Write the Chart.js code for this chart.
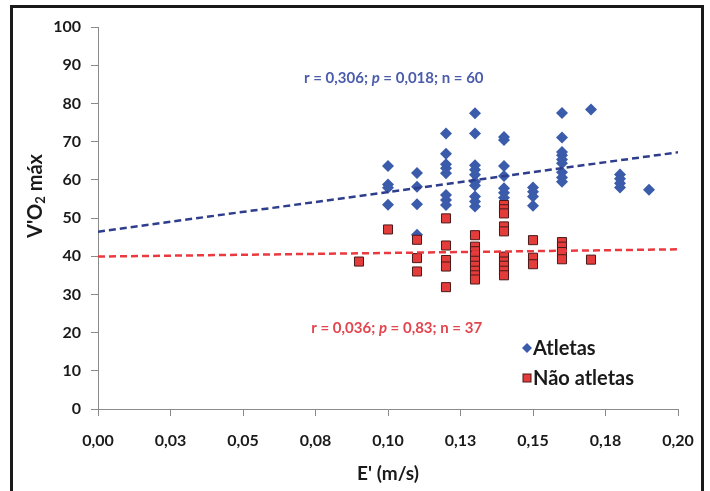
<!DOCTYPE html>
<html>
<head>
<meta charset="utf-8">
<script src="https://cdn.jsdelivr.net/npm/chart.js@4.4.1/dist/chart.umd.min.js"></script>
<style>
html, body { margin: 0; padding: 0; background: #fff; }
#wrap { position: relative; width: 710px; height: 491px; overflow: hidden; }
#frame { position: absolute; left: 10px; top: 5px; width: 688px; height: 520px; border: 3px solid #1a1a1a; pointer-events: none; }
canvas { position: absolute; left: 0; top: 0; }
</style>
</head>
<body>
<div id="wrap">
  <canvas id="c" width="710" height="491"></canvas>
  <div id="frame"></div>
</div>
<script>
// E' (m/s) / V'O2 max — athletes
const athleteX = [
  0.10, 0.10, 0.10, 0.10,
  0.11, 0.11, 0.11, 0.11,
  0.12, 0.12, 0.12, 0.12, 0.12, 0.12, 0.12, 0.12,
  0.13, 0.13, 0.13, 0.13, 0.13, 0.13, 0.13, 0.13, 0.13, 0.13,
  0.14, 0.14, 0.14, 0.14, 0.14, 0.14, 0.14,
  0.15, 0.15, 0.15, 0.15,
  0.16, 0.16, 0.16, 0.16, 0.16, 0.16, 0.16, 0.16, 0.16,
  0.17,
  0.18, 0.18, 0.18, 0.18,
  0.19
]
const athleteY = [
  63.6, 58.8, 57.9, 53.5,
  61.8, 58.2, 53.6, 45.6,
  72.1, 66.8, 64.1, 63.0, 61.7, 56.0, 54.7, 53.4,
  77.4, 72.1, 63.8, 62.6, 61.3, 59.5, 58.5, 55.6, 54.3, 53.0,
  71.2, 70.4, 63.6, 61.0, 57.8, 56.6, 55.3,
  58.0, 56.9, 55.6, 53.2,
  77.5, 71.1, 67.3, 66.4, 65.3, 64.3, 62.0, 60.6, 59.5,
  78.4,
  61.4, 60.3, 59.1, 58.0,
  57.4
]
// non-athletes
const nonAthleteX = [
  0.09,
  0.10,
  0.11, 0.11, 0.11,
  0.12, 0.12, 0.12, 0.12, 0.12,
  0.13, 0.13, 0.13, 0.13, 0.13, 0.13, 0.13, 0.13, 0.13,
  0.14, 0.14, 0.14, 0.14, 0.14, 0.14, 0.14, 0.14, 0.14, 0.14,
  0.15, 0.15, 0.15,
  0.16, 0.16, 0.16, 0.16,
  0.17
]
const nonAthleteY = [
  38.6,
  47.0,
  44.3, 39.5, 36.0,
  49.9, 42.8, 39.0, 37.3, 31.9,
  45.5, 42.5, 41.3, 40.1, 38.8, 37.5, 36.2, 35.0, 33.9,
  53.4, 52.3, 51.2, 47.8, 46.5, 39.9, 38.6, 37.5, 36.2, 35.0,
  44.2, 39.6, 37.9,
  43.7, 42.5, 41.1, 39.2,
  39.1
]
// linear trend ends
const trendX = [0, 0.20]
const athleteTrend = [46.4, 67.2]
const nonAthleteTrend = [39.9, 41.8]

const xTickValues = [0, 0.025, 0.05, 0.075, 0.10, 0.125, 0.15, 0.175, 0.20]
const xTickLabels = ['0,00', '0,03', '0,05', '0,08', '0,10', '0,13', '0,15', '0,18', '0,20']

const seriesNames = ['Atletas', 'Não atletas']
const noteAthletes = ['r = 0,306; ', 'p', ' = 0,018; n = 60']
const noteNonAthletes = ['r = 0,036; ', 'p', ' = 0,83; n = 37']

const BLUE = '#3b5cab'
const RED = '#e43b3b'
const FONT = 'Lato, "Open Sans", sans-serif'

const pts = (xs, ys) => xs.map((x, i) => ({ x: x, y: ys[i] }))

function mixedText(ctx, parts, cx, cy, color, size) {
  ctx.save()
  ctx.fillStyle = color
  ctx.textBaseline = 'middle'
  let w = 0
  parts.forEach((p, i) => {
    ctx.font = (i === 1 ? 'italic ' : '') + 'bold ' + size + 'px ' + FONT
    w += ctx.measureText(p).width
  })
  let x = cx - w / 2
  parts.forEach((p, i) => {
    ctx.font = (i === 1 ? 'italic ' : '') + 'bold ' + size + 'px ' + FONT
    ctx.fillText(p, x, cy)
    x += ctx.measureText(p).width
  })
  ctx.restore()
}

const overlay = {
  id: 'overlay',
  afterDraw(chart) {
    const ctx = chart.ctx
    const x = chart.scales.x, y = chart.scales.y
    mixedText(ctx, noteAthletes, x.getPixelForValue(0.102), y.getPixelForValue(86.6), '#4a5cab', 15)
    mixedText(ctx, noteNonAthletes, x.getPixelForValue(0.103), y.getPixelForValue(21.2), '#e2454d', 15)

    // y axis title with subscript
    ctx.save()
    ctx.translate(36, 196)
    ctx.rotate(-Math.PI / 2)
    ctx.fillStyle = '#1a1a1a'
    ctx.textBaseline = 'middle'
    const a = "V'O", b = '2', c = ' máx'
    ctx.font = 'bold 20px ' + FONT
    const wa = ctx.measureText(a).width, wc = ctx.measureText(c).width
    ctx.font = 'bold 13px ' + FONT
    const wb = ctx.measureText(b).width
    let px = -(wa + wb + wc) / 2
    ctx.font = 'bold 20px ' + FONT
    ctx.fillText(a, px, 0); px += wa
    ctx.font = 'bold 13px ' + FONT
    ctx.fillText(b, px, 5); px += wb
    ctx.font = 'bold 20px ' + FONT
    ctx.fillText(c, px, 0)
    ctx.restore()

    // legend
    const lx = 527
    ctx.save()
    ctx.fillStyle = BLUE
    ctx.beginPath()
    ctx.moveTo(lx, 348 - 5); ctx.lineTo(lx + 5, 348); ctx.lineTo(lx, 348 + 5); ctx.lineTo(lx - 5, 348)
    ctx.closePath(); ctx.fill()
    ctx.fillStyle = RED
    ctx.strokeStyle = '#4a1a1a'
    ctx.lineWidth = 1
    ctx.fillRect(lx - 4, 378 - 4, 8, 8)
    ctx.strokeRect(lx - 4, 378 - 4, 8, 8)
    ctx.fillStyle = '#1a1a1a'
    ctx.font = 'bold 20px ' + FONT
    ctx.textBaseline = 'middle'
    ctx.fillText(seriesNames[0], lx + 6, 349)
    ctx.fillText(seriesNames[1], lx + 6, 379)
    ctx.restore()
  }
}

new Chart(document.getElementById('c'), {
  type: 'scatter',
  data: {
    datasets: [
      {
        type: 'line', label: 'trend athletes', data: pts(trendX, athleteTrend),
        borderColor: '#2e3d8c', borderWidth: 2.5, borderDash: [7, 4], pointRadius: 0, fill: false
      },
      {
        type: 'line', label: 'trend non athletes', data: pts(trendX, nonAthleteTrend),
        borderColor: '#ea3a40', borderWidth: 2.5, borderDash: [7, 4], pointRadius: 0, fill: false
      },
      {
        label: seriesNames[1], data: pts(nonAthleteX, nonAthleteY),
        pointStyle: 'rect', pointRadius: 6.4, backgroundColor: RED, borderColor: '#4a1a1a', borderWidth: 1
      },
      {
        label: seriesNames[0], data: pts(athleteX, athleteY),
        pointStyle: 'rectRot', pointRadius: 6, backgroundColor: BLUE, borderColor: BLUE, borderWidth: 0
      }
    ]
  },
  options: {
    responsive: false,
    animation: false,
    layout: { padding: { left: 0, right: 32, top: 27, bottom: 0 } },
    plugins: { legend: { display: false }, tooltip: { enabled: false } },
    scales: {
      x: {
        type: 'linear', min: 0, max: 0.20,
        afterBuildTicks: s => { s.ticks = xTickValues.map(v => ({ value: v })) },
        afterFit: s => { s.height = 82 },
        grid: { drawOnChartArea: false, drawTicks: true, tickLength: 7, color: '#8a8a8a' },
        border: { display: true, color: '#8a8a8a', width: 1 },
        ticks: {
          padding: 15, color: '#1a1a1a', font: { family: FONT, size: 16, weight: 'bold' },
          maxRotation: 0, autoSkip: false,
          callback: (v, i) => xTickLabels[i]
        },
        title: { display: true, text: "E' (m/s)", color: '#1a1a1a', font: { family: FONT, size: 19, weight: 'bold' }, padding: { top: 0, bottom: 6 } }
      },
      y: {
        min: 0, max: 100,
        afterFit: s => { s.width = 98 },
        grid: { drawOnChartArea: false, drawTicks: true, tickLength: 7, color: '#8a8a8a' },
        border: { display: true, color: '#8a8a8a', width: 1 },
        ticks: { stepSize: 10, padding: 10, color: '#1a1a1a', font: { family: FONT, size: 16, weight: 'bold' } }
      }
    }
  },
  plugins: [overlay]
})
</script>
</body>
</html>
